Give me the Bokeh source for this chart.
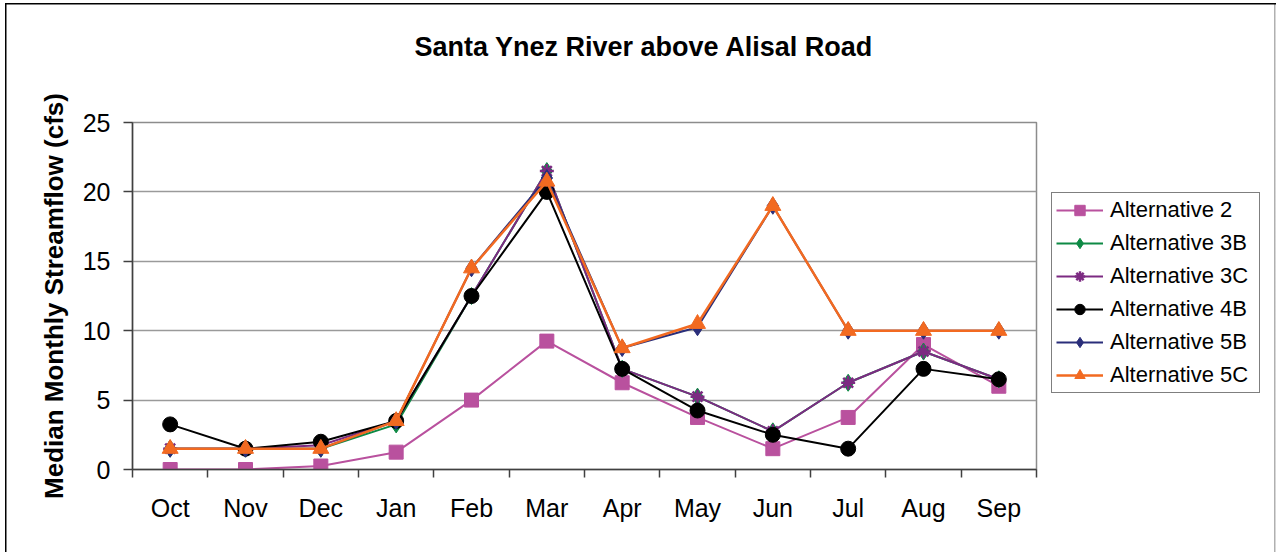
from bokeh.plotting import figure
from bokeh.layouts import row
from bokeh.models import FixedTicker, Legend, LegendItem, Range1d, Title
from bokeh.embed import file_html
from bokeh.resources import INLINE

months = ["Oct", "Nov", "Dec", "Jan", "Feb", "Mar", "Apr", "May", "Jun", "Jul", "Aug", "Sep"]
alt_2 = [0, 0, 0.25, 1.25, 5, 9.25, 6.25, 3.75, 1.5, 3.75, 9, 6]
alt_3b = [1.5, 1.5, 1.5, 3.25, 12.5, 21.5, 7.25, 5.25, 2.75, 6.25, 8.5, 6.5]
alt_3c = [1.5, 1.5, 1.75, 3.5, 12.5, 21.5, 7.25, 5.25, 2.75, 6.25, 8.5, 6.5]
alt_4b = [3.25, 1.5, 2.0, 3.5, 12.5, 20, 7.25, 4.25, 2.5, 1.5, 7.25, 6.5]
alt_5b = [1.5, 1.5, 1.5, 3.5, 14.5, 21.0, 8.75, 10.25, 19, 10, 10, 10]
alt_5c = [1.5, 1.5, 1.5, 3.5, 14.5, 20.75, 8.75, 10.5, 19, 10, 10, 10]
y_ticks = [0, 5, 10, 15, 20, 25]

x = [i + 1 for i in range(len(months))]
FONT = "Liberation Sans"

p = figure(width=1040, height=552, output_backend="svg", toolbar_location=None, title=None,
           x_range=Range1d(0.5, len(months) + 0.5), y_range=Range1d(0, 25),
           min_border_left=132, min_border_right=4, min_border_top=122, min_border_bottom=83,
           background_fill_color="white", border_fill_alpha=0)

# spacer (closest to the frame) then the real title above it
p.add_layout(Title(text=" ", text_font_size="1px", standoff=58), "above")
p.add_layout(Title(text="Santa Ynez River above Alisal Road", text_font=FONT,
                   text_font_size="27px", text_font_style="bold", text_color="black",
                   align="left", offset=282, standoff=0), "above")

p.outline_line_color = "#8c8c8c"
p.outline_line_width = 1.5

# x axis
p.xaxis.ticker = FixedTicker(ticks=x, minor_ticks=[i + 0.5 for i in range(len(months) + 1)])
p.xaxis.major_label_overrides = {xi: m for xi, m in zip(x, months)}
p.xaxis.major_tick_out = 0
p.xaxis.major_tick_in = 0
p.xaxis.minor_tick_out = 8
p.xaxis.minor_tick_in = 0
p.xaxis.minor_tick_line_color = "#404040"
p.xaxis.minor_tick_line_width = 1.5
p.xaxis.major_label_standoff = 16
p.xaxis.major_label_text_font = FONT
p.xaxis.major_label_text_font_size = "25px"
p.xaxis.major_label_text_color = "black"
p.xaxis.axis_line_color = "#404040"
p.xaxis.axis_line_width = 1.5

# y axis
p.yaxis.ticker = FixedTicker(ticks=y_ticks)
p.yaxis.major_tick_out = 9
p.yaxis.major_tick_in = 0
p.yaxis.minor_tick_line_color = None
p.yaxis.major_tick_line_color = "#404040"
p.yaxis.major_tick_line_width = 1.5
p.yaxis.major_label_standoff = 13
p.yaxis.major_label_text_font = FONT
p.yaxis.major_label_text_font_size = "25px"
p.yaxis.major_label_text_color = "black"
p.yaxis.axis_line_color = "#404040"
p.yaxis.axis_line_width = 1.5
p.yaxis.axis_label = "Median Monthly Streamflow (cfs)"
p.yaxis.axis_label_text_font = FONT
p.yaxis.axis_label_text_font_size = "26px"
p.yaxis.axis_label_text_font_style = "bold"
p.yaxis.axis_label_text_color = "black"
p.yaxis.axis_label_standoff = 11

p.xgrid.grid_line_color = None
p.ygrid.grid_line_color = "#9a9a9a"
p.ygrid.grid_line_width = 1.5

# legend lives in its own small panel to the right (data drawn out of view there)
lf = figure(width=236, height=552, output_backend="svg", toolbar_location=None, title=None,
            x_range=Range1d(1000, 1001), y_range=Range1d(1000, 1001),
            x_axis_type=None, y_axis_type=None,
            min_border_left=0, min_border_right=0, min_border_top=122, min_border_bottom=83,
            background_fill_alpha=0, border_fill_alpha=0)
lf.outline_line_color = None
lf.grid.visible = False

series = [
    ("Alternative 2", alt_2, "#B9519E", "square", 14),
    ("Alternative 3B", alt_3b, "#0E8A45", "diamond", 17),
    ("Alternative 3C", alt_3c, "#7C2A82", "asterisk", 14),
    ("Alternative 4B", alt_4b, "#000000", "circle", 15),
    ("Alternative 5B", alt_5b, "#2A2E7A", "diamond", 17),
    ("Alternative 5C", alt_5c, "#F26A21", "triangle", 16),
]

items = []
for name, vals, color, marker, size in series:
    lw = 2.5 if name == "Alternative 5C" else 2
    for fig in (p, lf):
        r1 = fig.line(x, vals, line_color=color, line_width=lw)
        if marker == "asterisk":
            r2 = fig.scatter(x, vals, marker=marker, size=size, line_color=color, line_width=2.5)
        else:
            r2 = fig.scatter(x, vals, marker=marker, size=size, fill_color=color, line_color=color)
    items.append(LegendItem(label=name, renderers=[r1, r2]))

legend = Legend(items=items, location=(11, 76))
legend.label_text_font = FONT
legend.label_text_font_size = "22px"
legend.label_text_color = "black"
legend.glyph_width = 47
legend.glyph_height = 26
legend.label_height = 26
legend.label_width = 145
legend.label_standoff = 7
legend.spacing = 7
legend.padding = 4
legend.margin = 0
legend.border_line_color = "black"
legend.border_line_width = 1
legend.background_fill_color = "white"
legend.background_fill_alpha = 1
lf.add_layout(legend, "center")

layout = row(p, lf, spacing=0, styles={
    "background": ("linear-gradient(#000,#000) 5px 3px / 1.5px 100% no-repeat, "
                   "linear-gradient(#000,#000) 5px 2.5px / 1271px 1.5px no-repeat, "
                   "linear-gradient(#b0b0b0,#b0b0b0) 1274px 3px / 1.5px 100% no-repeat, #ffffff")
})

open("out.html", "w").write(file_html(layout, INLINE))
